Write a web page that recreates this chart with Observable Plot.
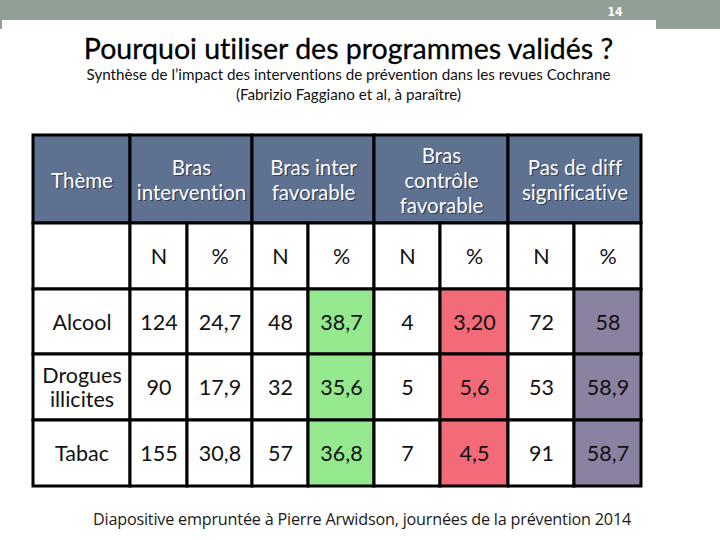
<!DOCTYPE html>
<html><head><meta charset="utf-8">
<script src="https://cdn.jsdelivr.net/npm/d3@7"></script>
<script src="https://cdn.jsdelivr.net/npm/@observablehq/plot@0.6"></script>
<style>
body{margin:0;width:720px;height:540px;position:relative;overflow:hidden;background:#fff;font-family:Lato,"Open Sans",sans-serif;font-variant-ligatures:none;}
#band{position:absolute;left:0;top:0;width:720px;height:29px;background:#929f96;}
#panel{position:absolute;left:2px;top:20px;width:654px;height:520px;background:#fff;}
#page{position:absolute;left:600px;top:5px;width:30px;text-align:center;color:#fff;font-size:12px;font-weight:bold;font-family:"DejaVu Sans Condensed","DejaVu Sans",sans-serif;}
.title{position:absolute;left:0;width:697px;text-align:center;color:#111;}
#chart{position:absolute;left:0;top:110px;}
#cap{position:absolute;left:0;width:724px;top:508px;text-align:center;font-size:16.2px;color:#1a1a1a;font-family:"Open Sans",sans-serif;letter-spacing:-0.2px;}
</style></head>
<body>
<div id="band"></div>
<div id="panel"></div>
<div id="page">14</div>
<div class="title" style="top:31px;font-size:28.5px;color:#000;-webkit-text-stroke:0.3px #000;">Pourquoi utiliser des programmes validés ?</div>
<div class="title" style="top:65px;font-size:15.2px;">Synthèse de l’impact des interventions de prévention dans les revues Cochrane</div>
<div class="title" style="top:85px;font-size:15.2px;">(Fabrizio Faggiano et al, à paraître)</div>
<div id="chart"></div>
<div id="cap">Diapositive empruntée à Pierre Arwidson, journées de la prévention 2014</div>
<script>
// ---- data ----
const themes = ["Alcool", "Drogues\nillicites", "Tabac"];
const groups = ["Bras\nintervention", "Bras inter\nfavorable", "Bras\ncontrôle\nfavorable", "Pas de diff\nsignificative"];
const subHeaders = ["N", "%"];
const interventionN = [124, 90, 155];
const interventionPct = ["24,7", "17,9", "30,8"];
const interFavN = [48, 32, 57];
const interFavPct = ["38,7", "35,6", "36,8"];
const controleFavN = [4, 5, 7];
const controleFavPct = ["3,20", "5,6", "4,5"];
const nonSigN = [72, 53, 91];
const nonSigPct = ["58", "58,9", "58,7"];

// ---- layout (styles) ----
const colW = [97, 57, 65, 56, 66, 66, 68, 66, 67];
const rowH = [88, 66, 65, 66, 66];
const tblLeft = 33, tblTop = 25;
const colE = d3.cumsum([tblLeft, ...colW]);
const rowE = d3.cumsum([tblTop, ...rowH]);
const colFill = {4: "#94e98f", 6: "#f36a78", 8: "#8b82a1"};
const headFill = "#5e7191";

const columns = [interventionN, interventionPct, interFavN, interFavPct, controleFavN, controleFavPct, nonSigN, nonSigPct];

const cells = [];
const texts = [];
const headTexts = [];
cells.push({x1: colE[0], x2: colE[1], y1: rowE[0], y2: rowE[1], fill: headFill});
headTexts.push({x: (colE[0] + colE[1]) / 2, y: (rowE[0] + rowE[1]) / 2, t: "Thème"});
groups.forEach((g, i) => {
  const a = 1 + 2 * i;
  cells.push({x1: colE[a], x2: colE[a + 2], y1: rowE[0], y2: rowE[1], fill: headFill});
  headTexts.push({x: (colE[a] + colE[a + 2]) / 2, y: (rowE[0] + rowE[1]) / 2, t: g});
});
for (let c = 0; c < 9; c++) {
  cells.push({x1: colE[c], x2: colE[c + 1], y1: rowE[1], y2: rowE[2], fill: "#fff"});
  if (c > 0) texts.push({x: (colE[c] + colE[c + 1]) / 2, y: (rowE[1] + rowE[2]) / 2, t: subHeaders[(c - 1) % 2]});
}
themes.forEach((th, r) => {
  const y1 = rowE[r + 2], y2 = rowE[r + 3], ym = (y1 + y2) / 2;
  cells.push({x1: colE[0], x2: colE[1], y1, y2, fill: "#fff"});
  texts.push({x: (colE[0] + colE[1]) / 2, y: ym, t: th});
  columns.forEach((col, k) => {
    const c = k + 1;
    cells.push({x1: colE[c], x2: colE[c + 1], y1, y2, fill: colFill[c] || "#fff"});
    texts.push({x: (colE[c] + colE[c + 1]) / 2, y: ym, t: String(col[r])});
  });
});

const chart = Plot.plot({
  width: 720, height: 390,
  margin: 0,
  x: {domain: [0, 720], range: [0, 720], axis: null},
  y: {domain: [0, 390], range: [0, 390], axis: null},
  style: {fontFamily: "Lato, 'Open Sans', sans-serif", background: "transparent"},
  marks: [
    Plot.rect(cells, {x1: "x1", x2: "x2", y1: "y1", y2: "y2", fill: d => d.fill, stroke: "#000", strokeWidth: 3}),
    Plot.text(headTexts, {x: "x", y: "y", text: "t", dx: 1.2, dy: 1.2, fill: "#1e2636", fillOpacity: 0.7, fontSize: 20.5, lineHeight: 1.22}),
    Plot.text(headTexts, {x: "x", y: "y", text: "t", fill: "#fff", fontSize: 20.5, lineHeight: 1.22}),
    Plot.text(texts, {x: "x", y: "y", text: "t", fill: "#111", fontSize: 21.5, lineHeight: 1.12})
  ]
});
document.getElementById("chart").appendChild(chart);
</script>
</body></html>
